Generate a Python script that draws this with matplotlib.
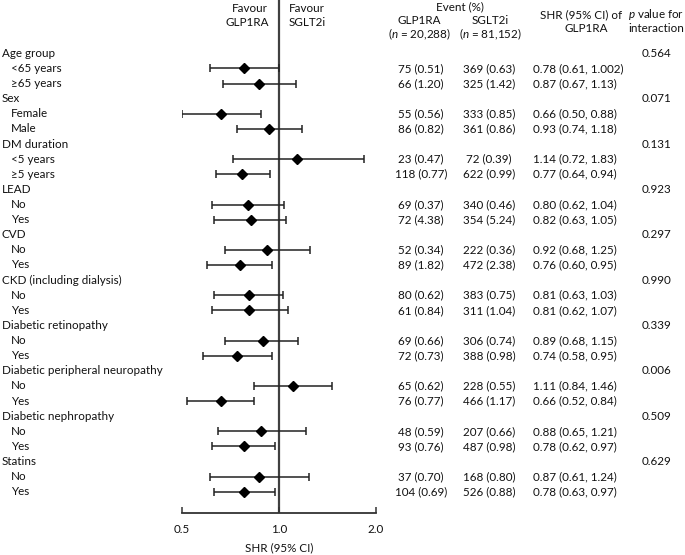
import numpy as np
import matplotlib
matplotlib.use("Agg")
import matplotlib.pyplot as plt
from matplotlib.transforms import blended_transform_factory

plt.rcParams['font.family'] = ['Lato', 'DejaVu Sans']
plt.rcParams['mathtext.fontset'] = 'custom'
plt.rcParams['mathtext.rm'] = 'Lato'
plt.rcParams['mathtext.it'] = 'Lato:italic'

# data
groups = ["Age group", "Sex", "DM duration", "LEAD", "CVD",
          "CKD (including dialysis)", "Diabetic retinopathy",
          "Diabetic peripheral neuropathy", "Diabetic nephropathy", "Statins"]
p_inter = ["0.564", "0.071", "0.131", "0.923", "0.297",
           "0.990", "0.339", "0.006", "0.509", "0.629"]
sub_labels = [["<65 years", "≥65 years"], ["Female", "Male"],
              ["<5 years", "≥5 years"], ["No", "Yes"], ["No", "Yes"],
              ["No", "Yes"], ["No", "Yes"], ["No", "Yes"], ["No", "Yes"], ["No", "Yes"]]
glp_n = [75, 66, 55, 86, 23, 118, 69, 72, 52, 89, 80, 61, 69, 72, 65, 76, 48, 93, 37, 104]
glp_pct = [0.51, 1.20, 0.56, 0.82, 0.47, 0.77, 0.37, 4.38, 0.34, 1.82,
           0.62, 0.84, 0.66, 0.73, 0.62, 0.77, 0.59, 0.76, 0.70, 0.69]
sglt_n = [369, 325, 333, 361, 72, 622, 340, 354, 222, 472,
          383, 311, 306, 388, 228, 466, 207, 487, 168, 526]
sglt_pct = [0.63, 1.42, 0.85, 0.86, 0.39, 0.99, 0.46, 5.24, 0.36, 2.38,
            0.75, 1.04, 0.74, 0.98, 0.55, 1.17, 0.66, 0.98, 0.80, 0.88]
shr = [0.78, 0.87, 0.66, 0.93, 1.14, 0.77, 0.80, 0.82, 0.92, 0.76,
       0.81, 0.81, 0.89, 0.74, 1.11, 0.66, 0.88, 0.78, 0.87, 0.78]
ci_lo = [0.61, 0.67, 0.50, 0.74, 0.72, 0.64, 0.62, 0.63, 0.68, 0.60,
         0.63, 0.62, 0.68, 0.58, 0.84, 0.52, 0.65, 0.62, 0.61, 0.63]
ci_hi = [1.002, 1.13, 0.88, 1.18, 1.83, 0.94, 1.04, 1.05, 1.25, 0.95,
         1.03, 1.07, 1.15, 0.95, 1.46, 0.84, 1.21, 0.97, 1.24, 0.97]
xticks = [0.5, 1.0, 2.0]
xticklabels = ["0.5", "1.0", "2.0"]


def fmt(v):
    s = f"{v:.2f}"
    return s if float(s) == v else str(v)


W, H = 685, 555
fig = plt.figure(figsize=(W / 100, H / 100), dpi=100)

def fx(px):
    return px / W

def fy(py):
    return 1 - py / H

# forest axes: x from 0.5 to 2.0, bottom spine at y=513px
ax_left, ax_right, ax_bottom = 181.7, 376.0, 513.0
ax = fig.add_axes([fx(ax_left), fy(ax_bottom), fx(ax_right - ax_left), ax_bottom / H])
row0, step = 53.3, 15.12
ax.set_xscale('log')
ax.set_xlim(0.5, 2.0)
ax.set_ylim((ax_bottom - row0) / step, -row0 / step)

txtc = '#111111'
fs = 8.4

sub_rows = []
for g in range(len(groups)):
    sub_rows += [3 * g + 1, 3 * g + 2]
sub_rows = np.array(sub_rows)

shr_a = np.array(shr)
err = np.vstack([shr_a - np.array(ci_lo), np.array(ci_hi) - shr_a])
ax.errorbar(shr_a, sub_rows, xerr=err, fmt='none', ecolor='#222222',
            elinewidth=1.1, capsize=2.6, capthick=1.1, zorder=2)
ax.plot(shr_a, sub_rows, 'D', color='black', markersize=5.5, zorder=3)
ax.axvline(1.0, color='#404040', lw=1.6, zorder=1)

for s in ['top', 'right', 'left']:
    ax.spines[s].set_visible(False)
ax.spines['bottom'].set_color('#333333')
ax.spines['bottom'].set_linewidth(1.3)
ax.set_yticks([])
ax.set_xticks(xticks)
ax.set_xticklabels(xticklabels, fontsize=fs, color=txtc)
ax.xaxis.set_minor_locator(matplotlib.ticker.NullLocator())
ax.tick_params(axis='x', direction='in', length=4, width=1.1, color='#333333', pad=8)
ax.set_xlabel("SHR (95% CI)", fontsize=fs, color=txtc, labelpad=5)
ax.patch.set_alpha(0)

tr = blended_transform_factory(fig.transFigure, ax.transData)
k = 0
for g, name in enumerate(groups):
    r = 3 * g
    ax.text(fx(2), r, name, transform=tr, ha='left', va='center', fontsize=fs, color=txtc)
    ax.text(fx(657), r, p_inter[g], transform=tr, ha='center', va='center', fontsize=fs, color=txtc)
    for j, lab in enumerate(sub_labels[g]):
        rr = r + 1 + j
        ax.text(fx(11), rr, lab, transform=tr, ha='left', va='center', fontsize=fs, color=txtc)
        ax.text(fx(421), rr, f"{glp_n[k]} ({glp_pct[k]:.2f})", transform=tr,
                ha='center', va='center', fontsize=fs, color=txtc)
        ax.text(fx(489), rr, f"{sglt_n[k]} ({sglt_pct[k]:.2f})", transform=tr,
                ha='center', va='center', fontsize=fs, color=txtc)
        ax.text(fx(533), rr, f"{fmt(shr[k])} ({fmt(ci_lo[k])}, {fmt(ci_hi[k])})", transform=tr,
                ha='left', va='center', fontsize=fs, color=txtc)
        k += 1

# headers
def head(px, py, s, ha='center'):
    fig.text(fx(px), fy(py), s, ha=ha, va='center', fontsize=fs, color=txtc)

head(250, 8, "Favour")
head(247, 23, "GLP1RA")
head(289, 8, "Favour", ha='left')
head(289, 23, "SGLT2i", ha='left')
head(460, 7, "Event (%)")
head(419, 20, "GLP1RA")
head(490, 20, "SGLT2i")
head(419, 34, r"($n$ = 20,288)")
head(490, 34, r"($n$ = 81,152)")
head(581, 15, "SHR (95% CI) of")
head(586, 29, "GLP1RA")
head(684, 15, r"$p$ value for", ha='right')
head(684, 29, "interaction", ha='right')

fig.savefig("out.png", dpi=100)
